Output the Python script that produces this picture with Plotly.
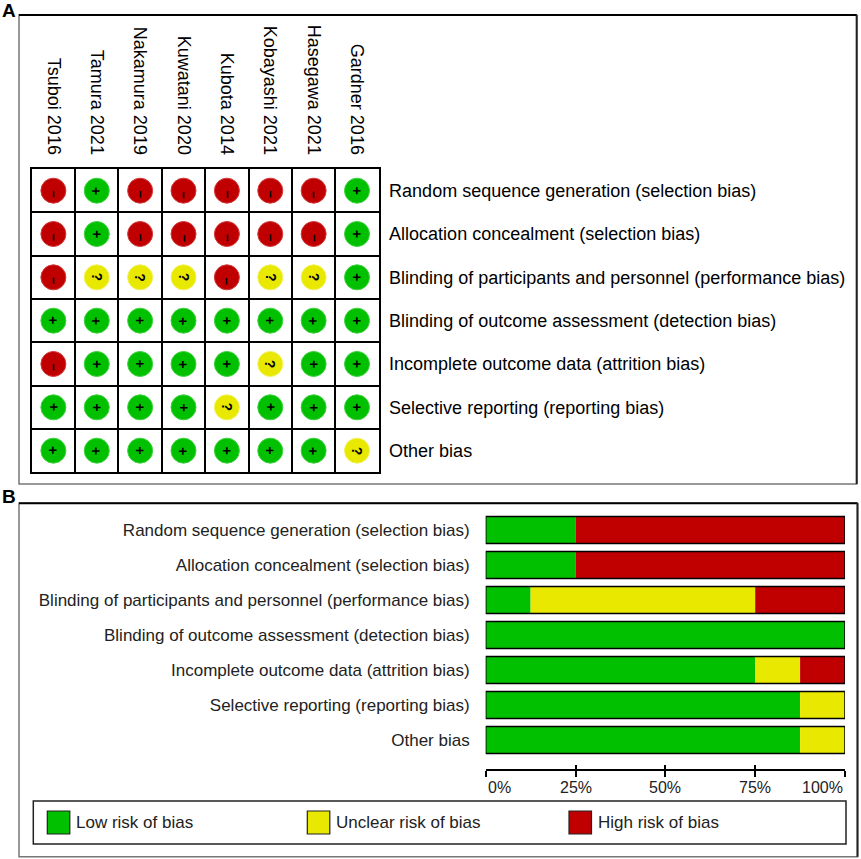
import plotly.graph_objects as go

#%% data

studies = ["Tsuboi 2016", "Tamura 2021", "Nakamura 2019", "Kuwatani 2020",
           "Kubota 2014", "Kobayashi 2021", "Hasegawa 2021", "Gardner 2016"]

bias_domains = [
    "Random sequence generation (selection bias)",
    "Allocation concealment (selection bias)",
    "Blinding of participants and personnel (performance bias)",
    "Blinding of outcome assessment (detection bias)",
    "Incomplete outcome data (attrition bias)",
    "Selective reporting (reporting bias)",
    "Other bias",
]

# judgements per domain, one per study (L = low, U = unclear, H = high)
rob_random     = ["H", "L", "H", "H", "H", "H", "H", "L"]
rob_allocation = ["H", "L", "H", "H", "H", "H", "H", "L"]
rob_blind_part = ["H", "U", "U", "U", "H", "U", "U", "L"]
rob_blind_out  = ["L", "L", "L", "L", "L", "L", "L", "L"]
rob_incomplete = ["H", "L", "L", "L", "L", "U", "L", "L"]
rob_selective  = ["L", "L", "L", "L", "U", "L", "L", "L"]
rob_other      = ["L", "L", "L", "L", "L", "L", "L", "U"]

# summary percentages (panel B)
low_pct     = [25, 25, 12.5, 100, 75, 87.5, 87.5]
unclear_pct = [0, 0, 62.5, 0, 12.5, 12.5, 12.5]
high_pct    = [75, 75, 25, 0, 12.5, 0, 0]

pct_ticks = [0, 25, 50, 75, 100]
pct_labels = ["0%", "25%", "50%", "75%", "100%"]

legend_names = ["Low risk of bias", "Unclear risk of bias", "High risk of bias"]

#%% styles

W, H = 861, 859
FONT = "Liberation Sans, Arial, sans-serif"
GREEN, YELLOW, RED = "#00C000", "#E8E800", "#C00000"
colors = {"L": GREEN, "U": YELLOW, "H": RED}
rims = {"L": "#3FD23F", "U": "#F2F25A", "H": "#D23A3A"}
signs = {"L": "+", "U": "?", "H": "\u2212"}
sign_size = {"L": 14, "U": 14, "H": 13}


def px(x):
    return x / W


def py(y):
    return 1 - y / H


rob_rows = [rob_random, rob_allocation, rob_blind_part, rob_blind_out,
            rob_incomplete, rob_selective, rob_other]

fig = go.Figure()

#%% panel A - traffic light grid

annotations = []
for code in ["L", "U", "H"]:
    xs, ys = [], []
    for r, row in enumerate(rob_rows):
        for c, j in enumerate(row):
            if j == code:
                xs.append(c + 1)
                ys.append(r + 1)
                annotations.append(dict(
                    x=c + 1, y=r + 1, xref="x", yref="y", text="<b>%s</b>" % signs[code],
                    showarrow=False, textangle=90,
                    font=dict(family=FONT, size=sign_size[code], color="black"),
                    yshift=-4 if code == "H" else 0))
    fig.add_trace(go.Scatter(
        x=xs, y=ys, mode="markers", xaxis="x", yaxis="y",
        marker=dict(size=25, color=colors[code], line=dict(color=rims[code], width=1)),
        hoverinfo="skip", showlegend=False))

#%% panel B - summary bars

bases_unclear = low_pct
bases_high = [a + b for a, b in zip(low_pct, unclear_pct)]
totals = [a + b + c for a, b, c in zip(low_pct, unclear_pct, high_pct)]

for vals, base, col in [(low_pct, [0] * 7, GREEN),
                        (unclear_pct, bases_unclear, YELLOW),
                        (high_pct, bases_high, RED)]:
    fig.add_trace(go.Bar(
        y=bias_domains, x=vals, base=base, orientation="h", width=0.77,
        marker=dict(color=col, line=dict(width=0)),
        xaxis="x2", yaxis="y2", hoverinfo="skip", showlegend=False))

# black outline around each full bar
fig.add_trace(go.Bar(
    y=bias_domains, x=totals, base=[0] * 7, orientation="h", width=0.77,
    marker=dict(color="rgba(0,0,0,0)", line=dict(color="black", width=1.5)),
    xaxis="x2", yaxis="y2", hoverinfo="skip", showlegend=False))

# dummy trace so the inner tick axis is drawn
fig.add_trace(go.Scatter(x=[None], y=[None], xaxis="x3", yaxis="y2",
                         showlegend=False, hoverinfo="skip"))

for v, lab in zip(pct_ticks, pct_labels):
    anchor = "left" if v == pct_ticks[0] else ("right" if v == pct_ticks[-1] else "center")
    annotations.append(dict(
        x=v, y=py(787), xref="x2", yref="paper", text=lab, showarrow=False,
        xanchor=anchor, yanchor="middle",
        font=dict(family=FONT, size=16, color="#222")))

#%% frames, legend and panel letters

shapes = []
for (x0, y0, x1, y1) in [(19, 15, 856.7, 484), (19, 503.3, 857.5, 856.7)]:
    shapes.append(dict(type="rect", xref="paper", yref="paper",
                       x0=px(x0), x1=px(x1), y0=py(y1), y1=py(y0),
                       line=dict(color="#777", width=1.5)))
    shapes.append(dict(type="line", xref="paper", yref="paper",
                       x0=px(x0), x1=px(x1), y0=py(y0), y1=py(y0),
                       line=dict(color="black", width=2)))
    shapes.append(dict(type="line", xref="paper", yref="paper",
                       x0=px(x1), x1=px(x1), y0=py(y0), y1=py(y1),
                       line=dict(color="#222", width=2)))

# legend box
shapes.append(dict(type="rect", xref="paper", yref="paper",
                   x0=px(33.3), x1=px(846), y0=py(844), y1=py(801),
                   line=dict(color="#222", width=1.5)))
legend_x = [47.3, 307.3, 569]
for lx, name, col in zip(legend_x, legend_names, [GREEN, YELLOW, RED]):
    shapes.append(dict(type="rect", xref="paper", yref="paper",
                       x0=px(lx), x1=px(lx + 22.5), y0=py(834), y1=py(811),
                       fillcolor=col, line=dict(color="#222", width=1.2)))
    annotations.append(dict(
        x=px(lx + 27), y=py(822.5), xref="paper", yref="paper", text=name,
        showarrow=False, xanchor="left", yanchor="middle",
        font=dict(family=FONT, size=17, color="#222")))

for letter, ly in [("A", -2), ("B", 484)]:
    annotations.append(dict(
        x=px(0), y=py(ly), xref="paper", yref="paper", text="<b>%s</b>" % letter,
        showarrow=False, xanchor="left", yanchor="top",
        font=dict(family=FONT, size=19, color="black")))

#%% layout

grid_a = dict(showgrid=True, gridcolor="black", gridwidth=1.6, ticks="")

fig.update_layout(
    width=W, height=H, margin=dict(l=0, r=0, t=0, b=0),
    paper_bgcolor="white", plot_bgcolor="white",
    font=dict(family=FONT, color="black"),
    barmode="overlay", showlegend=False,
    xaxis=dict(domain=[px(31.7), px(378.7)], range=[0.5, 8.5], side="top",
               tickvals=list(range(1, len(studies) + 1)), ticktext=studies,
               tickangle=90, ticks="", showgrid=False, zeroline=False,
               showline=True, mirror=True, linecolor="black", linewidth=1.6,
               minor=dict(tickvals=[i + 0.5 for i in range(len(studies) + 1)], **grid_a),
               tickfont=dict(size=18, color="black"), ticklabelstandoff=6,
               anchor="y", fixedrange=True),
    yaxis=dict(domain=[py(472.3), py(169)], range=[len(bias_domains) + 0.5, 0.5],
               side="right", tickvals=list(range(1, len(bias_domains) + 1)),
               ticktext=bias_domains, ticks="", showgrid=False, zeroline=False,
               showline=True, mirror=True, linecolor="black", linewidth=1.6,
               minor=dict(tickvals=[i + 0.5 for i in range(len(bias_domains) + 1)], **grid_a),
               tickfont=dict(size=18, color="black"), ticklabelstandoff=5,
               anchor="x", fixedrange=True),
    xaxis2=dict(domain=[px(485.7), px(845)], range=[0, 100], anchor="free",
                position=py(770), tickvals=pct_ticks, ticks="outside", ticklen=6,
                tickwidth=1.5, tickcolor="black", showline=True, linecolor="black",
                linewidth=1.5, showticklabels=False, showgrid=False, zeroline=False,
                fixedrange=True),
    xaxis3=dict(overlaying="x2", matches="x2", anchor="free", position=py(770),
                tickvals=pct_ticks, ticks="inside", ticklen=5, tickwidth=1.5,
                tickcolor="black", showline=False, showticklabels=False,
                showgrid=False, zeroline=False, fixedrange=True),
    yaxis2=dict(domain=[py(757.5), py(512.5)], type="category",
                categoryarray=bias_domains, range=[len(bias_domains) - 0.5, -0.5],
                anchor="x2", ticks="", showline=False, showgrid=False, zeroline=False,
                tickfont=dict(size=17, color="#222"), ticklabelstandoff=15,
                fixedrange=True),
    shapes=shapes, annotations=annotations,
)

# the page's default body margin would push the figure 8px off
fig.write_html("out.html", config={"displayModeBar": False},
               post_script="document.body.style.margin = '0';")
